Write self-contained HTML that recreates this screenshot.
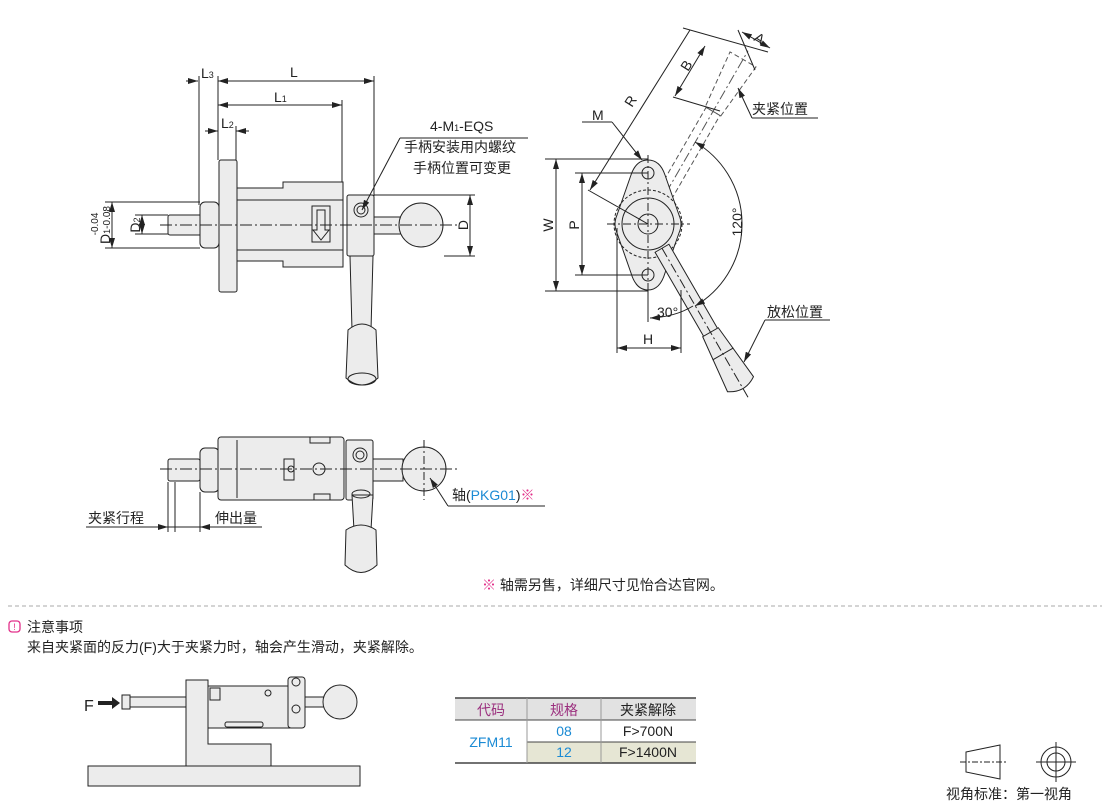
<!DOCTYPE html>
<html><head><meta charset="utf-8"><style>
html,body{margin:0;padding:0;background:#fff}
svg{display:block}
text{font-family:"Liberation Sans","Noto Sans CJK SC",sans-serif;fill:#222}
</style></head><body>
<svg width="1110" height="803" viewBox="0 0 1110 803" xmlns="http://www.w3.org/2000/svg">
<defs>
<marker id="ar" viewBox="0 0 10 6" refX="10" refY="3" markerWidth="10" markerHeight="6" orient="auto-start-reverse"><path d="M0,0L10,3L0,6z" fill="#222"/></marker>
</defs>
<g stroke="#222" stroke-width="1" fill="none">
<!-- ===== TOP LEFT VIEW ===== -->
<!-- ext lines -->
<line x1="199" y1="76" x2="199" y2="205"/>
<line x1="218" y1="76" x2="218" y2="160"/>
<line x1="374" y1="76" x2="374" y2="196"/>
<line x1="342" y1="100" x2="342" y2="186"/>
<line x1="236" y1="126" x2="236" y2="160"/>
<line x1="186" y1="81" x2="198" y2="81" marker-end="url(#ar)"/>
<line x1="218" y1="81" x2="374" y2="81" marker-start="url(#ar)" marker-end="url(#ar)"/>
<line x1="218" y1="105" x2="342" y2="105" marker-start="url(#ar)" marker-end="url(#ar)"/>
<line x1="205" y1="131" x2="218" y2="131" marker-end="url(#ar)"/>
<line x1="249" y1="131" x2="236" y2="131" marker-end="url(#ar)"/>
<!-- parts -->
<g fill="#ececec">
<rect x="168" y="215" width="34" height="20" rx="2"/>
<rect x="200" y="202" width="19" height="46" rx="5"/>
<rect x="219" y="160" width="18" height="132" rx="2"/>
<path d="M237,188H283V182H343V267H283V261H237Z"/>
<rect x="347" y="195" width="27" height="61" rx="2"/>
<rect x="374" y="217" width="32" height="17"/>
<circle cx="421" cy="225" r="22"/>
<path d="M350,256L352,330H371L373,256Z"/>
<path d="M348,330Q362,318 376,330L378,378Q362,392 346,378Z"/>
</g>
<ellipse cx="362" cy="379" rx="14" ry="6"/>
<line x1="237" y1="200" x2="343" y2="200"/><line x1="237" y1="250" x2="343" y2="250"/>
<rect x="312" y="206" width="18" height="36"/>
<path d="M317,210V230H313L321,240L329,230H325V210Z"/>
<circle cx="361" cy="210" r="7"/><circle cx="361" cy="210" r="4"/>
<line x1="160" y1="225" x2="460" y2="225" stroke-dasharray="12,3,2,3"/>
<!-- D dims -->
<line x1="374" y1="195" x2="475" y2="195"/><line x1="444" y1="256" x2="475" y2="256"/>
<line x1="470" y1="195" x2="470" y2="256" marker-start="url(#ar)" marker-end="url(#ar)"/>
<line x1="105" y1="202" x2="200" y2="202"/><line x1="105" y1="248" x2="200" y2="248"/>
<line x1="112" y1="202" x2="112" y2="248" marker-start="url(#ar)" marker-end="url(#ar)"/>
<line x1="135" y1="215" x2="168" y2="215"/><line x1="135" y1="234" x2="168" y2="234"/>
<line x1="142" y1="215" x2="142" y2="234" marker-start="url(#ar)" marker-end="url(#ar)"/>
<line x1="528" y1="138" x2="400" y2="138"/><line x1="400" y1="138" x2="362" y2="210" marker-end="url(#ar)"/>

<!-- ===== TOP RIGHT VIEW ===== -->
<!-- clamp handle dashed -->
<g transform="translate(648,224) rotate(-150)" stroke-dasharray="5,3" stroke="#555">
<rect x="-8" y="30" width="16" height="100"/>
<path d="M-9,130L-15,190H15L9,130Z"/>
<line x1="0" y1="0" x2="0" y2="200" stroke-dasharray="10,3,2,3"/>
</g>
<path d="M648,160Q660,160 665,175L679,215Q683,224 679,233L665,273Q660,290 648,290Q636,290 631,273L617,233Q613,224 617,215L631,175Q636,160 648,160Z" fill="#ececec"/>
<circle cx="648" cy="173" r="6"/><circle cx="648" cy="275" r="6"/>
<circle cx="648" cy="224" r="34" stroke-dasharray="3,2"/>
<circle cx="648" cy="224" r="26"/><circle cx="648" cy="224" r="10"/>
<g transform="translate(648,224) rotate(-30)" fill="#ececec">
<rect x="-8" y="28" width="16" height="100"/>
<path d="M-9,125L-15,185Q0,195 15,185L9,125Z"/>
<line x1="0" y1="28" x2="0" y2="200" stroke-dasharray="10,3,2,3" fill="none"/>
<line x1="-12" y1="150" x2="12" y2="150"/>
</g>
<line x1="607" y1="224" x2="690" y2="224" stroke-dasharray="8,3,2,3"/>
<line x1="648" y1="155" x2="648" y2="305" stroke-dasharray="8,3,2,3"/>
<line x1="545" y1="159" x2="648" y2="159"/><line x1="545" y1="291" x2="648" y2="291"/>
<line x1="556" y1="159" x2="556" y2="291" marker-start="url(#ar)" marker-end="url(#ar)"/>
<line x1="575" y1="173" x2="648" y2="173"/><line x1="575" y1="275" x2="648" y2="275"/>
<line x1="582" y1="173" x2="582" y2="275" marker-start="url(#ar)" marker-end="url(#ar)"/>
<line x1="617" y1="228" x2="617" y2="353"/><line x1="681" y1="290" x2="681" y2="353"/>
<line x1="617" y1="348" x2="681" y2="348" marker-start="url(#ar)" marker-end="url(#ar)"/>
<path d="M695,142A95,95 0 0 1 695,306" marker-start="url(#ar)" marker-end="url(#ar)"/>
<line x1="648" y1="290" x2="648" y2="322"/>
<path d="M650,318Q675,317 693,306" marker-start="url(#ar)"/>
<!-- R, B, A dims -->
<line x1="590" y1="190" x2="690" y2="30" marker-start="url(#ar)"/>
<line x1="588" y1="190" x2="648" y2="224"/>
<line x1="683" y1="28" x2="768" y2="52"/>
<line x1="673" y1="97" x2="720" y2="111"/>
<line x1="675" y1="96" x2="705" y2="46" marker-start="url(#ar)" marker-end="url(#ar)"/>
<line x1="742" y1="32" x2="770" y2="48" marker-start="url(#ar)" marker-end="url(#ar)"/>
<line x1="738" y1="30" x2="755" y2="70"/>
<line x1="582" y1="122" x2="612" y2="122"/><line x1="612" y1="122" x2="642" y2="160" marker-end="url(#ar)"/>
<line x1="818" y1="118" x2="752" y2="118"/><line x1="752" y1="118" x2="738" y2="88" marker-end="url(#ar)"/>
<line x1="830" y1="320" x2="765" y2="320"/><line x1="765" y1="320" x2="744" y2="362" marker-end="url(#ar)"/>

<!-- ===== MIDDLE VIEW ===== -->
<g fill="#ececec">
<rect x="168" y="459" width="32" height="22" rx="2"/>
<rect x="200" y="448" width="19" height="44" rx="5"/>
<rect x="218" y="437" width="126" height="63" rx="3"/>
<rect x="346" y="440" width="27" height="60" rx="2"/>
<rect x="373" y="459" width="30" height="22"/>
<circle cx="424" cy="469" r="22"/>
<path d="M352,495L354,530H371L373,495Z"/>
<path d="M346,530Q361,520 376,530L377,565Q361,580 345,565Z"/>
</g>
<line x1="237" y1="440" x2="237" y2="498"/>
<rect x="310" y="437" width="20" height="6"/><rect x="314" y="494" width="16" height="6"/>
<rect x="284" y="459" width="10" height="21"/>
<circle cx="291" cy="469" r="3"/><circle cx="319" cy="469" r="6"/>
<circle cx="360" cy="455" r="7"/><circle cx="360" cy="455" r="4"/>
<ellipse cx="361" cy="494" rx="9" ry="4"/>
<line x1="160" y1="469" x2="458" y2="469" stroke-dasharray="12,3,2,3"/>
<line x1="424" y1="440" x2="424" y2="500" stroke-dasharray="8,3,2,3"/>
<line x1="168" y1="482" x2="168" y2="532"/><line x1="175" y1="482" x2="175" y2="532"/><line x1="200" y1="492" x2="200" y2="532"/>
<line x1="86" y1="527" x2="160" y2="527"/>
<line x1="150" y1="527" x2="168" y2="527" marker-end="url(#ar)"/>
<line x1="168" y1="527" x2="200" y2="527"/>
<line x1="213" y1="527" x2="200" y2="527" marker-end="url(#ar)"/>
<line x1="205" y1="527" x2="262" y2="527"/>
<line x1="545" y1="506" x2="448" y2="506"/><line x1="448" y1="506" x2="430" y2="478" marker-end="url(#ar)"/>
</g>

<!-- labels -->
<g font-size="14">
<text x="201" y="78">L<tspan font-size="9">3</tspan></text>
<text x="290" y="77">L</text>
<text x="274" y="102">L<tspan font-size="9">1</tspan></text>
<text x="221" y="128">L<tspan font-size="9">2</tspan></text>
<text x="430" y="131">4-M<tspan font-size="9">1</tspan>-EQS</text>
<text x="404" y="152">手柄安装用内螺纹</text>
<text x="413" y="173">手柄位置可变更</text>
<text transform="translate(468,225) rotate(-90)" text-anchor="middle">D</text>
<text transform="translate(140,225) rotate(-90)" text-anchor="middle">D<tspan font-size="9">2</tspan></text>
<text transform="translate(110,225) rotate(-90)" text-anchor="middle">D<tspan font-size="9">1</tspan><tspan font-size="10">-0.08</tspan></text>
<text transform="translate(98,224) rotate(-90)" text-anchor="middle" font-size="10">-0.04</text>
<text x="592" y="120">M</text>
<text transform="translate(632,108) rotate(-58)">R</text>
<text transform="translate(688,72) rotate(-58)">B</text>
<text transform="translate(753,40) rotate(32)">A</text>
<text x="752" y="114">夹紧位置</text>
<text x="767" y="317">放松位置</text>
<text transform="translate(553,225) rotate(-90)" text-anchor="middle">W</text>
<text transform="translate(579,225) rotate(-90)" text-anchor="middle">P</text>
<text x="643" y="344">H</text>
<text x="657" y="317">30°</text>
<text transform="translate(742,222) rotate(-90)" text-anchor="middle">120°</text>
<text x="88" y="523">夹紧行程</text>
<text x="215" y="523">伸出量</text>
<text x="452" y="500">轴(<tspan fill="#1a8ad4">PKG01</tspan>)<tspan fill="#e2308a">※</tspan></text>
<text x="482" y="590"><tspan fill="#e2308a">※</tspan> 轴需另售，详细尺寸见怡合达官网。</text>
</g>
<line x1="8" y1="606" x2="1102" y2="606" stroke="#aaa" stroke-dasharray="4,3"/>
<rect x="9" y="621" width="11" height="11" rx="3" fill="none" stroke="#e2308a" stroke-width="1.3"/>
<text x="14.5" y="630" font-size="9" fill="#e2308a" text-anchor="middle" style="fill:#e2308a">!</text>
<text x="27" y="632" font-size="14">注意事项</text>
<text x="27" y="652" font-size="14">来自夹紧面的反力(F)大于夹紧力时，轴会产生滑动，夹紧解除。</text>

<!-- bottom diagram -->
<g stroke="#222" fill="#ececec">
<rect x="88" y="766" width="272" height="20"/>
<path d="M186,680H208V744H271V766H186Z"/>
<rect x="130" y="697" width="56" height="10"/>
<rect x="122" y="695" width="8" height="14"/>
<rect x="208" y="686" width="82" height="42"/>
<rect x="288" y="677" width="17" height="51" rx="3"/>
<rect x="305" y="697" width="20" height="10"/>
<circle cx="340" cy="702" r="17"/>
<rect x="210" y="688" width="10" height="12" fill="none"/>
<rect x="225" y="722" width="38" height="5" rx="2" fill="none"/>
<circle cx="268" cy="693" r="3" fill="none"/>
<circle cx="296" cy="709" r="4" fill="none"/>
<circle cx="296" cy="682" r="4" fill="none"/>
</g>
<text x="84" y="711" font-size="16">F</text>
<path d="M98,701H112V697L120,703L112,709V705H98Z" fill="#222"/>

<!-- table -->
<rect x="455" y="698" width="241" height="22" fill="#e2e2e2"/>
<rect x="527" y="742" width="169" height="21" fill="#e6e6d4"/>
<g stroke="#444" stroke-width="1">
<line x1="455" y1="698" x2="696" y2="698" stroke-width="1.5"/>
<line x1="455" y1="720" x2="696" y2="720"/>
<line x1="527" y1="742" x2="696" y2="742"/>
<line x1="455" y1="763" x2="696" y2="763" stroke-width="1.5"/>
<line x1="527" y1="698" x2="527" y2="763" stroke="#999"/>
<line x1="601" y1="698" x2="601" y2="763" stroke="#999"/>
</g>
<g font-size="14" text-anchor="middle">
<text x="491" y="715" style="fill:#9b2f7e">代码</text>
<text x="564" y="715" style="fill:#9b2f7e">规格</text>
<text x="648" y="715">夹紧解除</text>
<text x="491" y="747" style="fill:#1a8ad4">ZFM11</text>
<text x="564" y="736" style="fill:#1a8ad4">08</text>
<text x="648" y="736">F&gt;700N</text>
<text x="564" y="757" style="fill:#1a8ad4">12</text>
<text x="648" y="757">F&gt;1400N</text>
</g>

<!-- view legend -->
<g stroke="#222" fill="none">
<path d="M966,752L1000,745V779L966,772Z"/>
<line x1="960" y1="762" x2="1006" y2="762" stroke-dasharray="6,2,2,2"/>
<circle cx="1056" cy="762" r="15"/><circle cx="1056" cy="762" r="9"/>
<line x1="1036" y1="762" x2="1076" y2="762"/><line x1="1056" y1="742" x2="1056" y2="782"/>
</g>
<text x="946" y="799" font-size="14">视角标准：第一视角</text>
</svg>
</body></html>
